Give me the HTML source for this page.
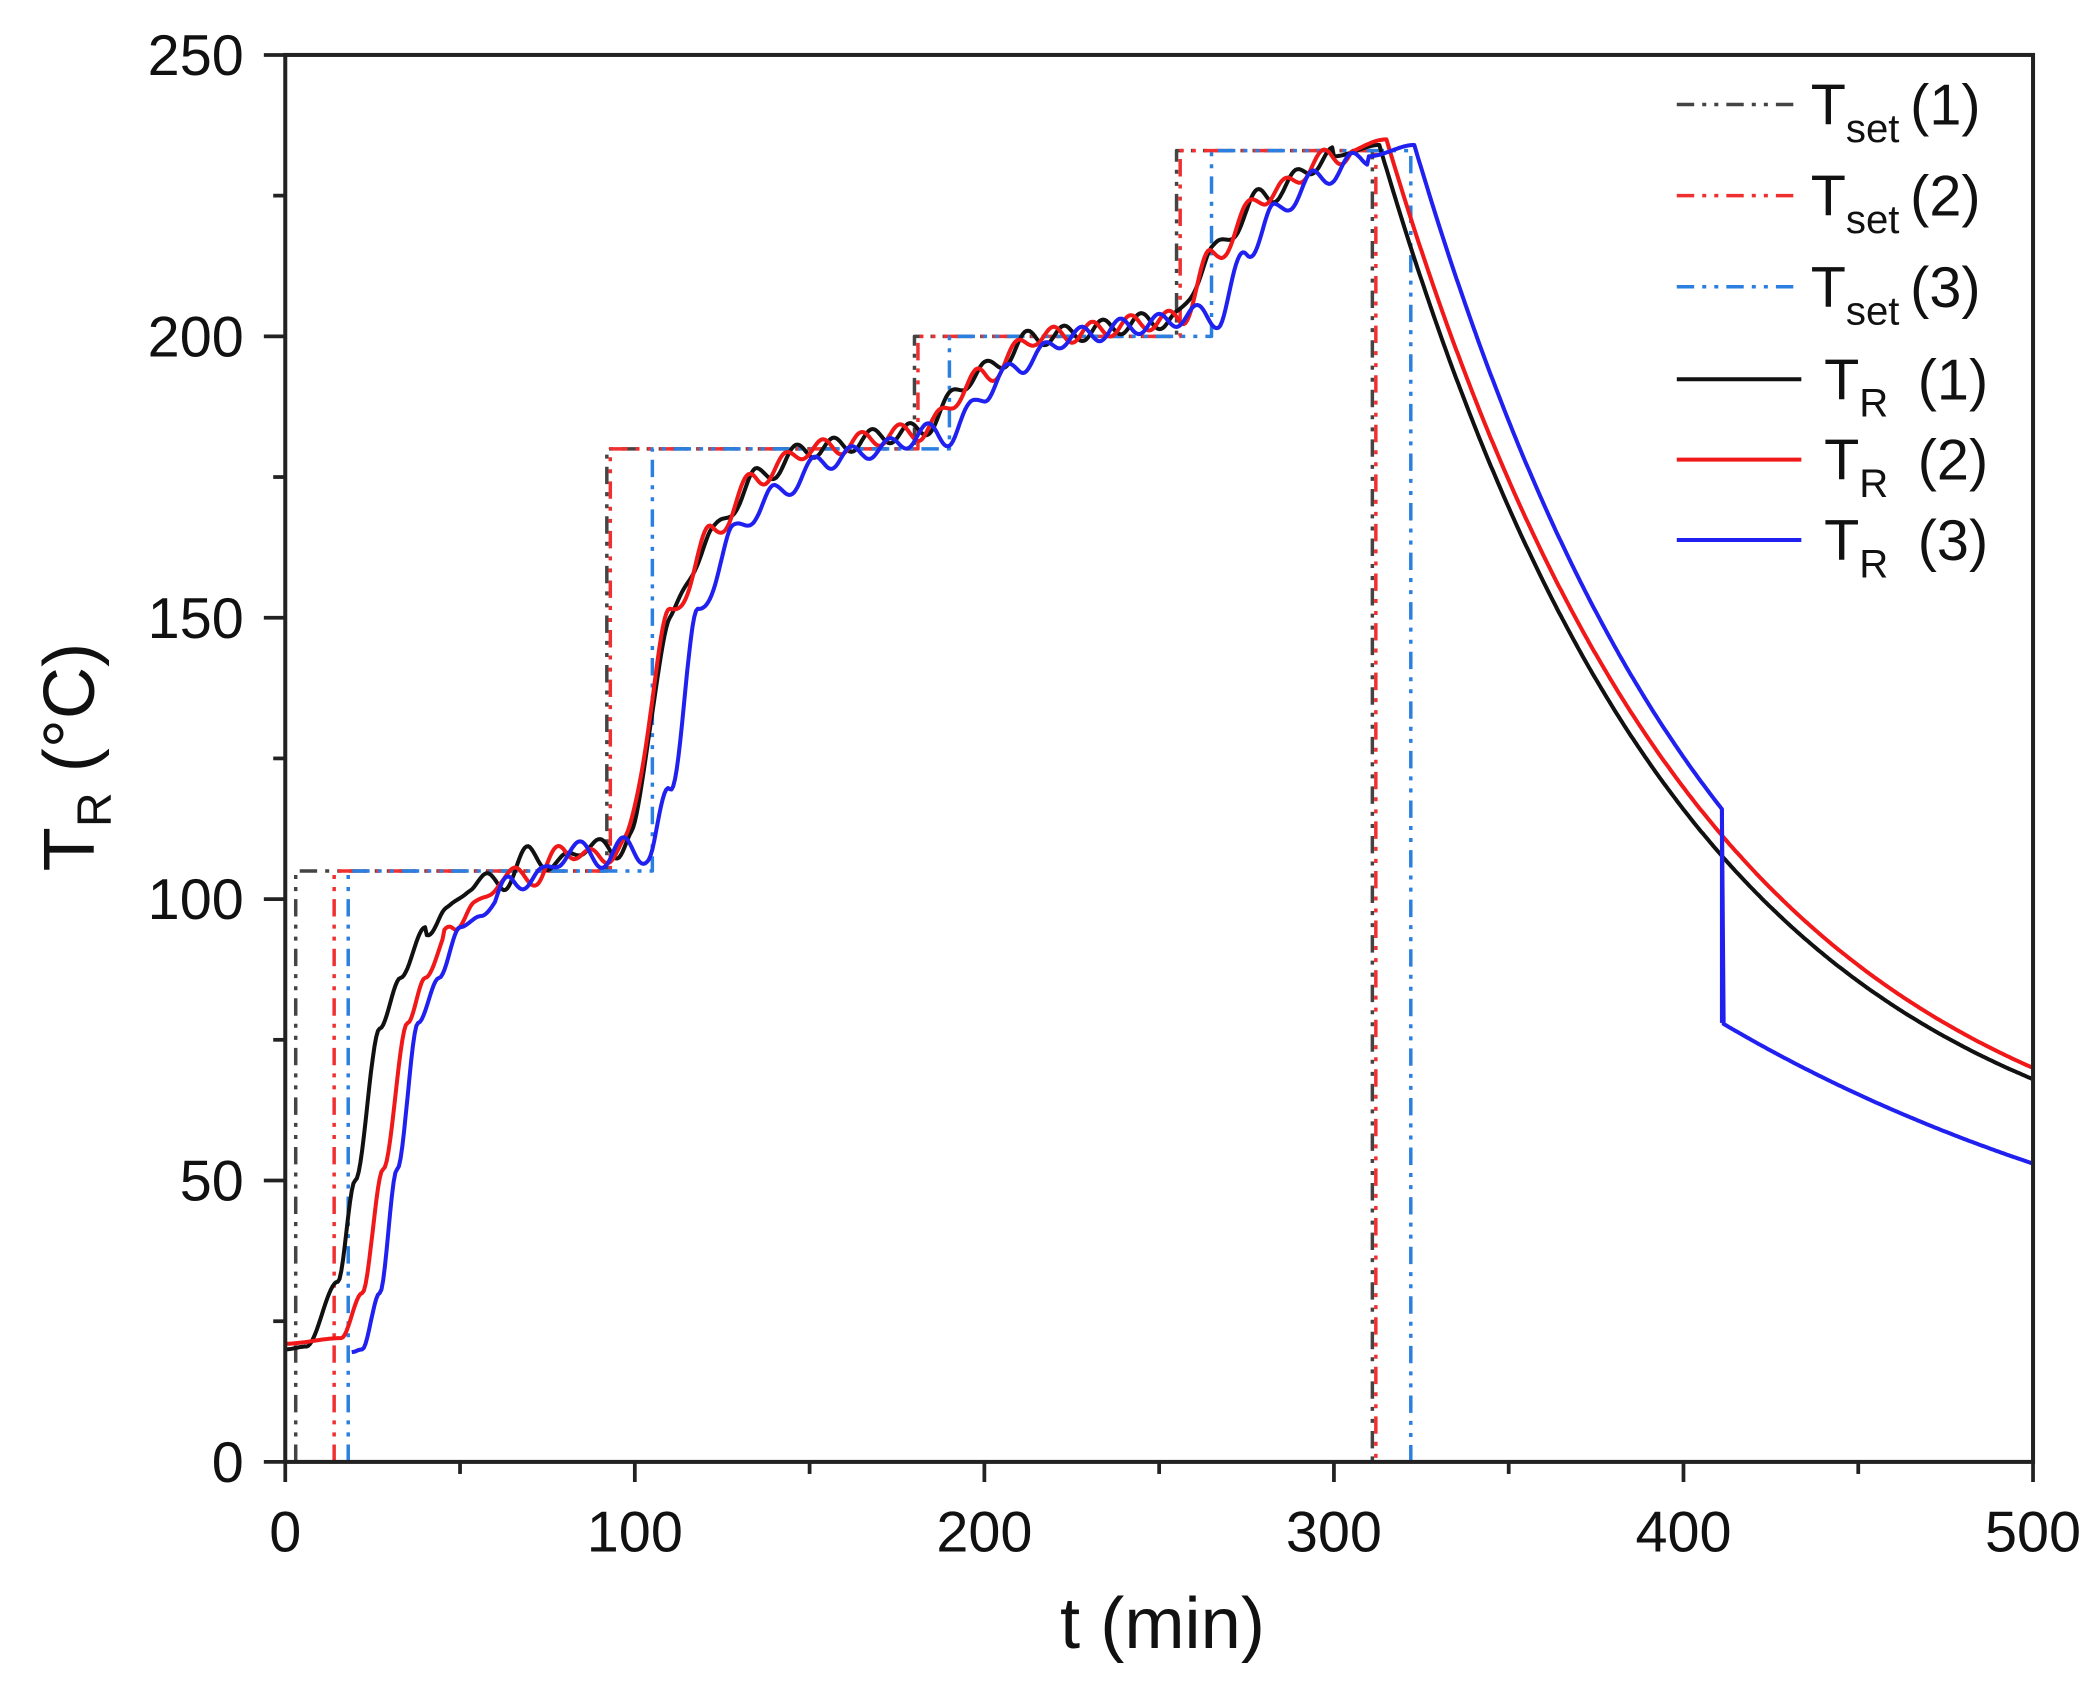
<!DOCTYPE html>
<html><head><meta charset="utf-8"><style>
html,body{margin:0;padding:0;background:#fff}
svg{display:block}
text{font-family:"Liberation Sans",Arial,sans-serif;fill:#111}
</style></head><body>
<svg id="s" width="2100" height="1683" viewBox="0 0 1568 1256" preserveAspectRatio="none" xmlns="http://www.w3.org/2000/svg">
<g id="ticks" stroke="#222" stroke-width="2.8"></g>
<g id="series" fill="none" stroke-linejoin="round"></g>
<rect x="213" y="41" width="1305" height="1050" fill="none" stroke="#222" stroke-width="3"/>
<g id="labels" font-size="43"></g>
<text x="868" y="1230" font-size="54" text-anchor="middle">t (min)</text>
<text transform="translate(70,565) rotate(-90)" font-size="54" text-anchor="middle">T<tspan font-size="36" dy="13">R</tspan><tspan dy="-13"> (°C)</tspan></text>
<g id="legend" font-size="43"></g>
</svg>
<script>
var NS="http://www.w3.org/2000/svg";
function X(t){return 213+t*2.61}
function Y(v){return 1091-v*4.2}
function el(p,tag,a,txt){var e=document.createElementNS(NS,tag);for(var k in a)e.setAttribute(k,a[k]);if(txt!=null)e.textContent=txt;p.appendChild(e);return e}
var tk=document.getElementById('ticks'),lb=document.getElementById('labels');
for(var t=0;t<=500;t+=50){var x=X(t);el(tk,'line',{x1:x,x2:x,y1:1091,y2:t%100==0?1106:1100});
 if(t%100==0)el(lb,'text',{x:x,y:1158,'text-anchor':'middle'},t);}
for(var v=0;v<=250;v+=25){var y=Y(v);el(tk,'line',{x1:v%50==0?197:204,x2:213,y1:y,y2:y});
 if(v%50==0)el(lb,'text',{x:182,y:y+15,'text-anchor':'end'},v);}
var sg=document.getElementById('series');
var dash="13 6 3 6 3 6";
function step(pts,col){var d="";pts.forEach(function(p,i){d+=(i?"L":"M")+X(p[0]).toFixed(1)+","+Y(p[1]).toFixed(1)});
 el(sg,'path',{d:d,stroke:col,'stroke-width':2.6,'stroke-dasharray':dash});}
step([[3,0],[3,105],[92,105],[92,180],[180,180],[180,200],[255,200],[255,233],[311,233],[311,0]],"#444");
step([[14,0],[14,105],[93,105],[93,180],[181,180],[181,200],[256,200],[256,233],[312,233],[312,0]],"#f03030");
step([[18,0],[18,105],[105,105],[105,180],[190,180],[190,200],[265,200],[265,233],[322,233],[322,0]],"#2a7fe0");
function interp(k,t){for(var i=1;i<k.length;i++){if(t<=k[i][0]){var a=k[i-1],b=k[i];
 var u=(t-a[0])/(b[0]-a[0]);u=u*u*(3-2*u);return a[1]+(b[1]-a[1])*u;}}return k[k.length-1][1]}
function decay(t0,v0,t1,v1,amb){var k=Math.log((v0-amb)/(v1-amb))/(t1-t0);return function(t){return amb+(v0-amb)*Math.exp(-k*(t-t0))}}
function curve(k,tPeak,dec,ws,we,col,ph,extra){var d="";var first=true;
 for(var t=0;t<=500;t+=0.5){var v;
  if(t<=tPeak){v=interp(k,t);if(t>ws&&t<we)v+=1.6*Math.sin(2*Math.PI*(t+ph)/11);}
  else v=dec(t);
  if(extra)v=extra(t,v);
  if(v==null)continue;
  d+=(first?"M":"L")+X(t).toFixed(1)+","+Y(v).toFixed(1);first=false;}
 el(sg,'path',{d:d,stroke:col,'stroke-width':3});}
var k1=[[0,20],[6,20.5],[15,32],[20,50],[27,77],[33,86],[40,95],[46,97],[53,103],[62,103],[70,108],[78,106],[87,110],[94,108],[99,112],[110,150],[122,165],[135,175],[150,180],[180,183],[200,194],[215,200],[255,203],[265,215],[280,225],[300,232],[313,234]];
curve(k1,313,decay(313,234,500,68,45),40,300,"#111",0);
var k2=[[0,21],[16,22],[22,30],[28,52],[35,78],[40,86],[48,96],[54,98],[62,104],[72,104],[80,109],[90,107],[97,110],[110,150],[122,165],[135,175],[150,180],[181,183],[200,193],[215,200],[256,203],[265,214],[280,225],[300,232],[315,235]];
curve(k2,315,decay(315,235,500,70,45),45,305,"#f01818",3);
var k3=[[19,19.5],[22,20],[27,30],[32,52],[38,78],[44,86],[50,95],[56,97],[65,103],[73,104],[82,109],[92,107],[98,110],[104,107],[110,120],[118,150],[128,165],[140,172],[155,178],[170,180],[185,183],[190,182],[200,190],[210,195],[225,200],[245,202],[262,204],[267,203],[275,215],[283,222],[295,228],[310,232],[323,234]];
var dec3=decay(323,234,411,116,45);
curve(k3,323,function(t){if(t<=411)return dec3(t);return 20+(78-20)*Math.exp(-(t-411)*Math.log(58/33)/89)},60,310,"#2020f0",6,function(t,v){return t<19?null:v});
el(sg,'line',{x1:X(411),x2:X(411),y1:Y(116),y2:Y(78),stroke:"#2020f0",'stroke-width':3});
var lg=document.getElementById('legend');
var items=[["#444",1,"set","(1)",78],["#f03030",1,"set","(2)",146],["#2a7fe0",1,"set","(3)",214],["#111",0,"R","(1)",283],["#f01818",0,"R","(2)",343],["#2020f0",0,"R","(3)",403]];
items.forEach(function(it){var y=it[4];
 var a={x1:1252,x2:1345,y1:y,y2:y,stroke:it[0],'stroke-width':it[1]?2.6:3};if(it[1])a['stroke-dasharray']=dash;
 el(lg,'line',a);
 var tx=el(lg,'text',{x:it[1]?1352:1362,y:y+15});
 el(tx,'tspan',{},"T");el(tx,'tspan',{'font-size':30,dy:13},it[2]);el(tx,'tspan',{dy:-13,dx:it[1]?8:22},it[3]);});
</script>
</body></html>
